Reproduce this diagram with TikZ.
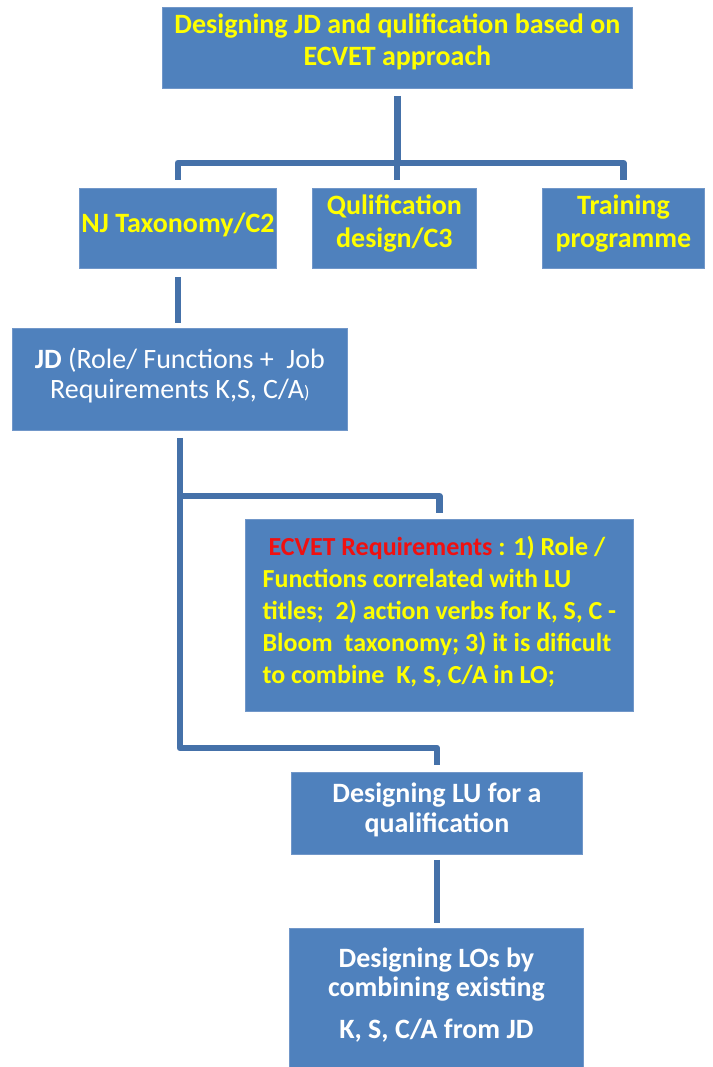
\documentclass[tikz,border=0pt]{standalone}
\usepackage{fontspec}
\setmainfont{Carlito}
\definecolor{boxblue}{HTML}{4F81BD}
\definecolor{boxedge}{HTML}{7197C9}
\definecolor{lineblue}{HTML}{4571A9}
\definecolor{txtyellow}{HTML}{FFFF00}
\definecolor{txtred}{HTML}{F01010}
\newcommand\fontbig{\fontsize{28pt}{32pt}\selectfont}
\newcommand\fontmid{\fontsize{26pt}{32pt}\selectfont}
\begin{document}
\begin{tikzpicture}[x=1pt,y=-1pt,
  box/.style={fill=boxblue, draw=boxedge, line width=0.8pt, inner sep=0pt,
    anchor=north west, align=center},
  ylw/.style={text=txtyellow, font=\fontbig\bfseries},
  wht/.style={text=white, font=\fontbig},
  conn/.style={draw=lineblue, line width=6.5pt, line cap=butt, line join=round}]
\useasboundingbox (0,0) rectangle (712,1067);

% boxes
\node[box, ylw, minimum width=470pt, minimum height=81pt] (top) at (162,7)
  {Designing JD and qulification based on\\ECVET approach\rule[-16pt]{0pt}{0pt}};
\node[box, ylw, minimum width=197pt, minimum height=80pt] (nj) at (79,188)
  {NJ Taxonomy/C2\rule[-12pt]{0pt}{0pt}};
\node[box, ylw, minimum width=164pt, minimum height=80pt] (qual) at (312,188)
  {Qulification\\[1pt]design/C3\rule[-14pt]{0pt}{0pt}};
\node[box, ylw, minimum width=162pt, minimum height=80pt] (train) at (542,188)
  {Training\\[1pt]programme\rule[-14pt]{0pt}{0pt}};
\node[box, wht, minimum width=335pt, minimum height=102pt] (jd) at (12,328)
  {\textbf{JD} (Role/ Functions +~ Job\\[-2pt]Requirements K,S, C/A{\fontsize{18pt}{20pt}\selectfont)}\rule[-12pt]{0pt}{0pt}};
\node[box, text=txtyellow, font=\fontmid\bfseries, align=left,
      minimum width=388pt, minimum height=192pt] (ecvet) at (245,519)
  {\hspace*{6pt}\textcolor{txtred}{ECVET Requirements} : 1) Role /\\
   Functions correlated with LU\\
   titles;~ 2) action verbs for K, S, C -\\
   Bloom~ taxonomy; 3) it is dificult\\
   to combine~ K, S, C/A in LO;\rule[-12pt]{0pt}{0pt}};
\node[box, wht, font=\fontbig\bfseries, minimum width=291pt, minimum height=82pt] (lu) at (291,772)
  {Designing LU for a\\[-2pt]qualification\rule[-12pt]{0pt}{0pt}};
\node[box, wht, font=\fontbig\bfseries, minimum width=294pt, minimum height=150pt] (lo) at (289,928)
  {Designing LOs by\\[-3pt]combining existing\\[10pt]K, S, C/A from JD\rule[-20pt]{0pt}{0pt}};

% connectors
\coordinate (bar) at (397,163);
\coordinate (b1) at (0,496);
\coordinate (b2) at (0,748);
\draw[conn, shorten <=7pt] (top.south) -- (top.south |- bar);
\draw[conn, shorten <=8pt, shorten >=8pt] (nj.north) |- (bar) -| (train.north);
\draw[conn, shorten >=8pt] (bar) -- (bar |- qual.north);
\draw[conn, shorten <=8pt, shorten >=5pt] (nj.south) -- (nj.south |- jd.north);
\draw[conn, shorten <=7pt, shorten >=7pt] (jd.south) |- (lu.north |- b2) -- (lu.north);
\draw[conn, shorten >=6pt] (jd.south |- b1) -| (ecvet.north);
\draw[conn, shorten <=5pt, shorten >=5pt] (lu.south) -- (lu.south |- lo.north);
\end{tikzpicture}
\end{document}
